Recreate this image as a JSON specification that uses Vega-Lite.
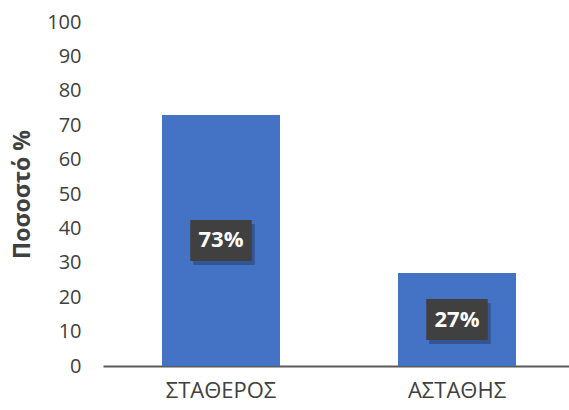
{
  "$schema": "https://vega.github.io/schema/vega-lite/v6.json",
  "autosize": {"type": "none"},
  "padding": {"left": 103, "top": 22, "right": 0, "bottom": 44},
  "width": 472,
  "height": 344,
  "background": "white",
  "view": {"stroke": null},
  "config": {
    "axis": {"labelOverlap": false},
    "axisY": {
      "labelOverlap": false, "values": [0, 10, 20, 30, 40, 50, 60, 70, 80, 90, 100],
      "titleFont": "Open Sans", "titleFontSize": 23,
      "titleFontWeight": "bold", "titleColor": "#404040", "titlePadding": 12,
      "labelFont": "Open Sans", "labelFontSize": 20, "labelColor": "#404040",
      "labelPadding": 22, "domain": false, "ticks": false, "grid": false
    }
  },
  "data": {"values": [
    {"category": "ΣΤΑΘΕΡΟΣ", "value": 73, "label": "73%"},
    {"category": "ΑΣΤΑΘΗΣ", "value": 27, "label": "27%"}
  ]},
  "transform": [{"calculate": "datum.value / 2", "as": "mid"}],
  "encoding": {
    "x": {
      "field": "category", "type": "nominal", "sort": null,
      "scale": {"paddingInner": 0.5, "paddingOuter": 0.25},
      "axis": {
        "title": null, "labelAngle": 0, "ticks": false,
        "domainColor": "#595959", "domainWidth": 2,
        "labelFont": "Open Sans", "labelFontSize": 22, "labelColor": "#404040",
        "labelPadding": 14
      }
    }
  },
  "layer": [
    {
      "mark": {"type": "bar", "color": "#4472C4"},
      "encoding": {
        "y": {
          "field": "value", "type": "quantitative",
          "scale": {"domain": [0, 100], "nice": false},
          "axis": {"title": "Ποσοστό %", "labelOverlap": false}
        }
      }
    },
    {
      "mark": {"type": "point", "filled": true, "opacity": 0.25, "color": "#000000",
               "shape": "M-1.5,-1H1.5V1H-1.5Z", "size": 1681, "xOffset": 3, "yOffset": 4},
      "encoding": {"y": {"field": "mid", "type": "quantitative", "axis": {"title": "Ποσοστό %", "labelOverlap": false}}}
    },
    {
      "mark": {"type": "point", "filled": true, "opacity": 1, "color": "#404040",
               "shape": "M-1.5,-1H1.5V1H-1.5Z", "size": 1681},
      "encoding": {"y": {"field": "mid", "type": "quantitative", "axis": {"title": "Ποσοστό %", "labelOverlap": false}}}
    },
    {
      "mark": {"type": "text", "color": "white", "font": "Open Sans", "fontSize": 22,
               "fontWeight": "bold", "baseline": "middle", "align": "center"},
      "encoding": {
        "y": {"field": "mid", "type": "quantitative", "axis": {"title": "Ποσοστό %", "labelOverlap": false}},
        "text": {"field": "label"}
      }
    }
  ]
}
